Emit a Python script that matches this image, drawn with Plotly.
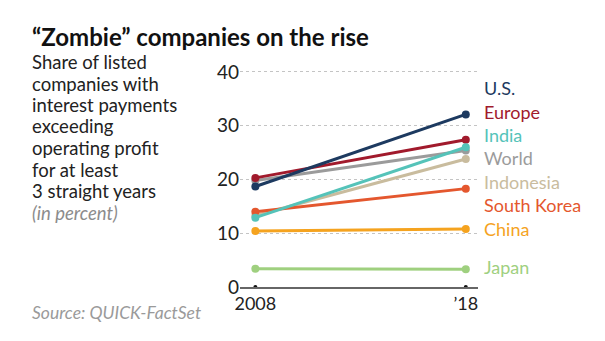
import plotly.graph_objects as go

years = [2008, 2018]
series_names = ["U.S.", "Europe", "India", "World", "Indonesia", "South Korea", "China", "Japan"]
values_2008 = [18.7, 20.3, 12.9, 19.8, 13.3, 14.0, 10.4, 3.4]
values_2018 = [32.1, 27.4, 26.0, 25.4, 23.8, 18.3, 10.8, 3.3]
colors = ["#1d3a60", "#a11a2c", "#55c3b9", "#9b9b9b", "#c9bc9e", "#e4572e", "#f5a31f", "#9fd07f"]
label_y = [37.0, 32.6, 28.3, 24.0, 19.5, 15.2, 10.8, 3.7]
ytick_vals = [0, 10, 20, 30, 40]
xtick_text = ["2008", "\u201918"]
desc = ["Share of listed", "companies with", "interest payments", "exceeding", "operating profit",
        "for at least", "3 straight years"]

FONT = "Lato"
W, H = 605, 341
ml, mr, mt, mb = 240, 127, 65, 54
pw, ph = W - ml - mr, H - mt - mb


def px(x):
    return (x - ml) / pw


def py(y):
    return (H - mb - y) / ph


fig = go.Figure()

order = [3, 4, 6, 7, 5, 1, 0, 2]
for i in order:
    fig.add_trace(go.Scatter(
        x=years, y=[values_2008[i], values_2018[i]], mode="lines+markers",
        line=dict(color=colors[i], width=3), marker=dict(color=colors[i], size=8),
        showlegend=False, hoverinfo="skip", cliponaxis=False))

fig.add_trace(go.Scatter(x=years, y=[0, 0], mode="markers", marker=dict(color="#111", size=4),
                         showlegend=False, cliponaxis=False, hoverinfo="skip"))

fig.add_annotation(x=px(30), y=py(37), xref="paper", yref="paper",
                   text="<b>\u201cZombie\u201d companies on the rise</b>",
                   showarrow=False, xanchor="left", yanchor="middle",
                   font=dict(family=FONT, size=24, color="#111"))
for name, c, ly in zip(series_names, colors, label_y):
    fig.add_annotation(x=1, xref="paper", xshift=4, y=ly, yref="y", text=name, showarrow=False,
                       xanchor="left", yanchor="middle", font=dict(family=FONT, size=18, color=c))
for k, line in enumerate(desc):
    fig.add_annotation(x=px(30), y=py(62 + k * 21.5), xref="paper", yref="paper", text=line,
                       showarrow=False, xanchor="left", yanchor="middle",
                       font=dict(family=FONT, size=18.5, color="#222"))
fig.add_annotation(x=px(30), y=py(62 + 7 * 21.5), xref="paper", yref="paper", text="<i>(in percent)</i>",
                   showarrow=False, xanchor="left", yanchor="middle",
                   font=dict(family=FONT, size=18.5, color="#8c8c8c"))
fig.add_annotation(x=px(30), y=py(312), xref="paper", yref="paper", text="<i>Source: QUICK-FactSet</i>",
                   showarrow=False, xanchor="left", yanchor="middle",
                   font=dict(family=FONT, size=17.5, color="#9a9a9a"))

fig.update_layout(
    width=W, height=H, margin=dict(l=ml, r=mr, t=mt, b=mb),
    paper_bgcolor="white", plot_bgcolor="white",
    xaxis=dict(range=[2007.27, 2018.58], tickvals=years, ticktext=xtick_text, showgrid=False,
               zeroline=False, showline=True, linecolor="#666", linewidth=1.5, ticks="",
               tickfont=dict(family=FONT, size=18, color="#222"), fixedrange=True),
    yaxis=dict(range=[0, 41.3], tickvals=ytick_vals, showgrid=True, gridcolor="#c4c4c4", griddash="dot",
               gridwidth=1, zeroline=False, showline=False, ticks="",
               tickfont=dict(family=FONT, size=19, color="#222"), fixedrange=True),
)

fig.write_html("out.html")
